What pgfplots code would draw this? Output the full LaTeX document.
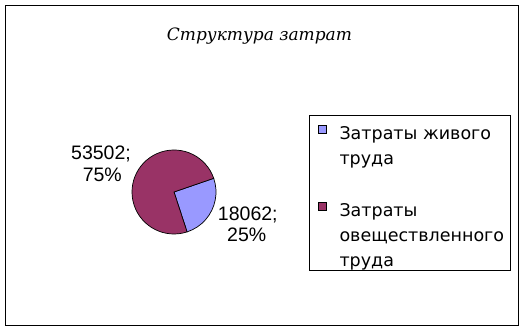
\documentclass[border=0pt]{standalone}
\usepackage{pgfplots}
\pgfplotsset{compat=1.18}
\usepackage{pgfplotstable}
\usepackage{fontspec}
\setmainfont{Liberation Sans}
\newfontfamily\legfont{DejaVu Sans}
\newfontfamily\titlefont{DejaVu Serif}
\definecolor{sliceA}{HTML}{9999FF}
\definecolor{sliceB}{HTML}{993366}

\pgfplotstableread{
value
18062
53502
}\piedata
\pgfplotstablegetelem{0}{value}\of\piedata\let\valA\pgfplotsretval
\pgfplotstablegetelem{1}{value}\of\piedata\let\valB\pgfplotsretval
\edef\angStart{19}
\edef\angMid{\fpeval{19-360*\valA/(\valA+\valB)}}
\edef\angEnd{\fpeval{19-360}}
\edef\pctA{\fpeval{round(100*\valA/(\valA+\valB))}}
\edef\pctB{\fpeval{round(100*\valB/(\valA+\valB))}}

\begin{document}
\begin{tikzpicture}
\begin{axis}[
  scale only axis, width=524pt, height=331pt,
  xmin=0, xmax=524, ymin=0, ymax=331,
  hide axis, clip=false,
]
\path (axis cs:0,0) rectangle (axis cs:524,331);
% pie slices from the table values
\filldraw[fill=sliceA, draw=black, line width=0.7pt] (axis cs:174,139) -- ++(\angStart:42pt) arc[start angle=\angStart, end angle=\angMid, radius=42pt] -- cycle;
\filldraw[fill=sliceB, draw=black, line width=0.7pt] (axis cs:174,139) -- ++(\angMid:42pt) arc[start angle=\angMid, end angle=\angEnd, radius=42pt] -- cycle;
% data labels
\node[anchor=base, font=\fontsize{19.5}{24}\selectfont, inner sep=0pt] at (axis cs:101,171.7) {\valB;};
\node[anchor=base, font=\fontsize{19.5}{24}\selectfont, inner sep=0pt] at (axis cs:102.3,149.5) {\pctB\%};
\node[anchor=base, font=\fontsize{19.5}{24}\selectfont, inner sep=0pt] at (axis cs:247.8,110.3) {\valA;};
\node[anchor=base, font=\fontsize{19.5}{24}\selectfont, inner sep=0pt] at (axis cs:246.7,89.3) {\pctA\%};
% legend
\draw[black, line width=0.9pt] (axis cs:309.7,216) rectangle (axis cs:510.7,61);
\draw[fill=sliceA, draw=black, line width=0.6pt] (axis cs:318.3,197.3) rectangle (axis cs:326.3,205.3);
\draw[fill=sliceB, draw=black, line width=0.6pt] (axis cs:318.3,120.6) rectangle (axis cs:326.3,128.6);
\node[anchor=base west, inner sep=0pt, font=\legfont\fontsize{17.5}{25}\selectfont] at (axis cs:339.3,191)
  {\parbox[t]{165pt}{\raggedright Затраты живого\\труда}};
\node[anchor=base west, inner sep=0pt, font=\legfont\fontsize{17.5}{25}\selectfont] at (axis cs:339.3,114.3)
  {\parbox[t]{165pt}{\raggedright Затраты\\овеществленного\\труда}};
% title
\node[anchor=base, font=\titlefont\itshape\fontsize{17}{21}\selectfont, inner sep=0pt] at (axis cs:259.5,290.3) {Структура затрат};
% outer frame
\draw[black, line width=1pt] (axis cs:5.5,5.8) rectangle (axis cs:518.7,325.5);
\end{axis}
\end{tikzpicture}
\end{document}
